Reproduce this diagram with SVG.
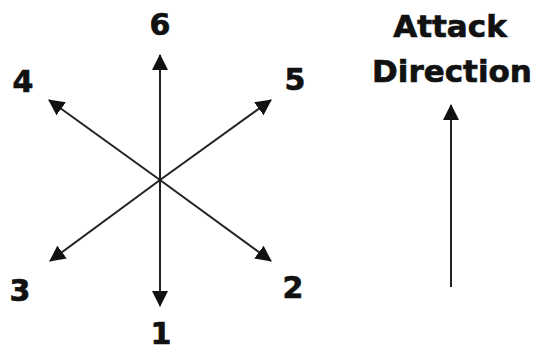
<svg xmlns="http://www.w3.org/2000/svg" width="536" height="352" viewBox="0 0 536 352">
<style>
.lbl{font-family:"DejaVu Sans",Verdana,sans-serif;font-weight:bold;font-size:30px;fill:#111;stroke:#111;stroke-width:0.7;text-anchor:middle}
.big{font-size:31px}
.ln{stroke:#222;stroke-width:2;fill:none;marker-end:url(#ah)}
</style>
<defs>
<marker id="ah" viewBox="0 0 16 16" refX="15" refY="8" markerWidth="16" markerHeight="16" markerUnits="userSpaceOnUse" orient="auto">
<path d="M0,0 L16,8 L0,16 Z" fill="#111"/>
</marker>
</defs>
<rect width="536" height="352" fill="#fff"/>
<g id="connectors">
<line class="ln" x1="160" y1="180" x2="160" y2="55"/>
<line class="ln" x1="160" y1="180" x2="160" y2="306"/>
<line class="ln" x1="160" y1="180" x2="49" y2="100"/>
<line class="ln" x1="160" y1="180" x2="271" y2="100"/>
<line class="ln" x1="160" y1="180" x2="50" y2="261"/>
<line class="ln" x1="160" y1="180" x2="271" y2="261"/>
<line class="ln" x1="451" y1="287" x2="451" y2="105"/>
</g>
<g id="n6"><text class="lbl" x="160" y="35">6</text></g>
<g id="n4"><text class="lbl" x="23" y="92">4</text></g>
<g id="n5"><text class="lbl" x="295" y="90">5</text></g>
<g id="n3"><text class="lbl" x="20" y="301">3</text></g>
<g id="n2"><text class="lbl" x="293" y="298">2</text></g>
<g id="n1"><text class="lbl" x="161" y="344">1</text></g>
<g id="attack"><text class="lbl big" x="450" y="37">Attack</text><text class="lbl big" x="452" y="82">Direction</text></g>
</svg>
